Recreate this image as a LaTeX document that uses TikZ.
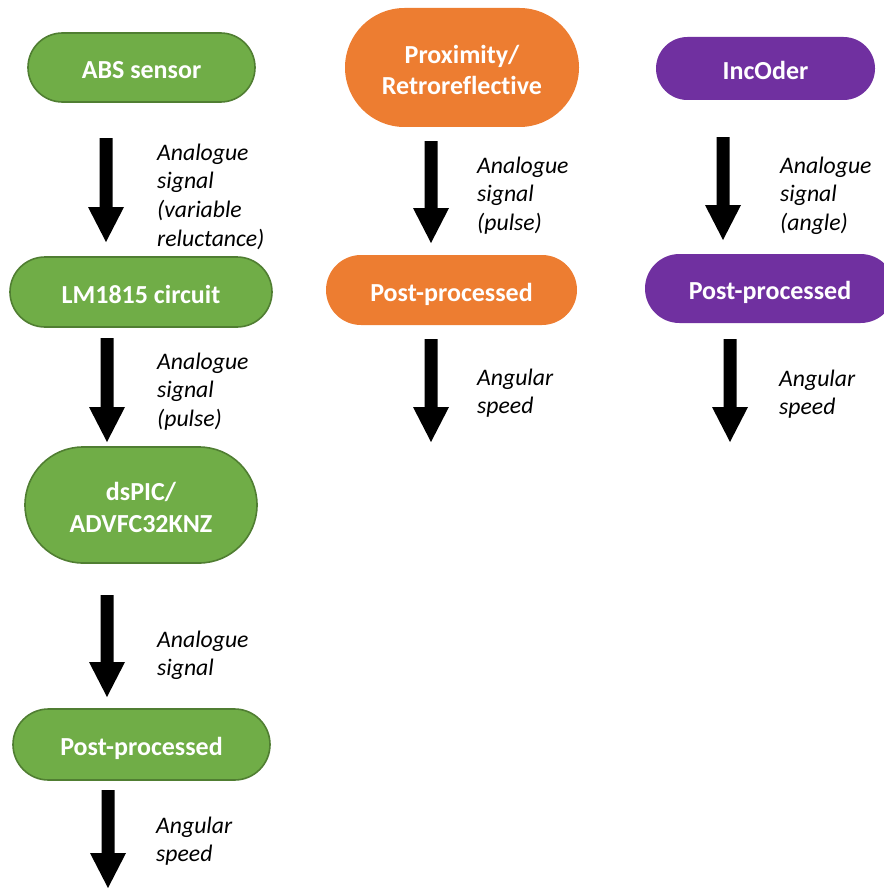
\documentclass[tikz,border=0pt]{standalone}
\usepackage{fontspec}
\setmainfont{Carlito}[Ligatures=NoCommon]
\usetikzlibrary{shapes.misc}
\definecolor{gfill}{HTML}{70AD47}
\definecolor{gdraw}{HTML}{507E32}
\definecolor{ofill}{HTML}{ED7D31}
\definecolor{pfill}{HTML}{7030A0}
\newcommand{\topstr}{\rule{0pt}{28.6pt}}
\newcommand{\botstr}{\rule[-6pt]{0pt}{6pt}}
\tikzset{
  pill/.style={rounded rectangle, inner sep=0pt, align=center, text=white,
    font=\bfseries\fontsize{26}{31.5}\selectfont},
  gpill/.style={pill, fill=gfill, draw=gdraw, line width=1.6pt},
  opill/.style={pill, fill=ofill},
  ppill/.style={pill, fill=pfill},
  lbl/.style={anchor=base west, inner sep=0pt, align=left,
    font=\itshape\fontsize{23.7}{28.7}\selectfont},
  blockarrow/.pic={\fill[black] (-6.5,0) -- (6.5,0) -- (6.5,#1-35) -- (18,#1-35)
     -- (0,#1) -- (-18,#1-35) -- (-6.5,#1-35) -- cycle;}
}
\begin{document}
\begin{tikzpicture}[x=1pt,y=-1pt]
\useasboundingbox (0,0) rectangle (883,888);
% green column
\node[gpill, minimum width=227pt, minimum height=69pt] (abs) at (141.5,67.5) {\topstr ABS sensor\botstr};
\node[gpill, minimum width=262pt, minimum height=70pt] (lm) at (141,292) {\topstr LM1815 circuit\botstr};
\node[gpill, minimum width=232pt, minimum height=116pt] (ds) at (141,505) {\topstr dsPIC/\\ADVFC32KNZ\botstr};
\node[gpill, minimum width=257pt, minimum height=71pt] (gpost) at (141.5,744.5) {\topstr Post-processed\botstr};
% orange column
\node[opill, minimum width=234pt, minimum height=119pt] (prox) at (462,67.5) {\topstr Proximity/\\Retroreflective\botstr};
\node[opill, minimum width=251pt, minimum height=70pt] (opost) at (451.5,290) {\topstr Post-processed\botstr};
% purple column
\node[ppill, minimum width=219pt, minimum height=63pt] (inc) at (765.5,68.5) {\topstr IncOder\botstr};
\node[ppill, minimum width=250pt, minimum height=69pt] (ppost) at (770,288.5) {\topstr Post-processed\botstr};
% arrows
\coordinate (ga1) at (106,138);
\coordinate (ga2) at (107,338);
\coordinate (ga3) at (107,595);
\coordinate (ga4) at (108,790);
\coordinate (oa1) at (431,141);
\coordinate (oa2) at (431,339);
\coordinate (pa1) at (723,137);
\coordinate (pa2) at (730,339);
\pic at (ga1) {blockarrow=104};
\pic at (ga2) {blockarrow=104};
\pic at (ga3) {blockarrow=102};
\pic at (ga4) {blockarrow=98};
\pic at (oa1) {blockarrow=102};
\pic at (oa2) {blockarrow=103};
\pic at (pa1) {blockarrow=103};
\pic at (pa2) {blockarrow=103};
% labels (anchored at the baseline of the last line)
\node[lbl] (gl1) at (157,246.1) {Analogue\\signal\\(variable\\reluctance)};
\node[lbl] (gl2) at (157,426.4) {Analogue\\signal\\(pulse)};
\node[lbl] (gl3) at (157,675.7) {Analogue\\signal};
\node[lbl] (gl4) at (156,861.7) {Angular\\speed};
\node[lbl] (ol1) at (477,230.4) {Analogue\\signal\\(pulse)};
\node[lbl] (ol2) at (477,413.7) {Angular\\speed};
\node[lbl] (pl1) at (780,230.4) {Analogue\\signal\\(angle)};
\node[lbl] (pl2) at (779,414.7) {Angular\\speed};
\end{tikzpicture}
\end{document}
